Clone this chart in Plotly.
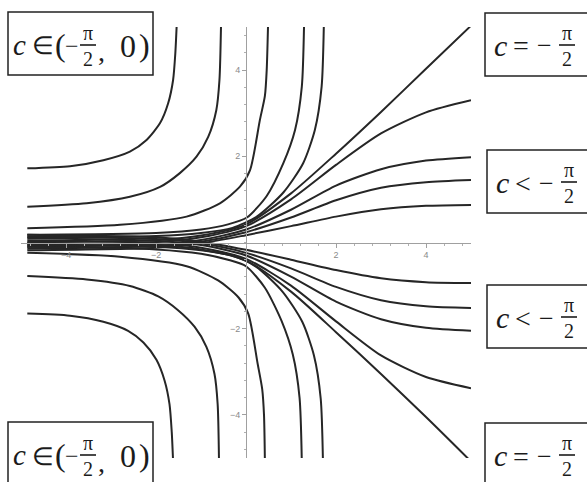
import plotly.graph_objects as go

W, H = 587, 482
ML, MR, MT, MB = 21, 116, 27, 24

# ---- solution curves, upper half ----
# c in (-pi/2, 0): branches that blow up
u1_x = [-4.86, -3.91, -3.17, -2.58, -2.21, -1.91, -1.73, -1.62, -1.57, -1.54]
u1_y = [1.72, 1.77, 1.91, 2.11, 2.38, 2.77, 3.23, 3.77, 4.4, 5.05]
u2_x = [-4.86, -3.54, -2.58, -1.91, -1.47, -1.10, -0.84, -0.66, -0.59, -0.555]
u2_y = [0.83, 0.91, 1.06, 1.29, 1.61, 1.99, 2.45, 3.07, 3.77, 5.05]
u3_x = [-4.86, -2.8, -1.32, -0.58, -0.13, 0.09, 0.31, 0.42, 0.46, 0.49]
u3_y = [0.33, 0.41, 0.60, 0.91, 1.30, 1.68, 2.85, 3.4, 4.0, 5.05]
u4_x = [-4.86, -2.0, -1.0, -0.4, 0.02, 0.46, 0.83, 1.09, 1.24, 1.29]
u4_y = [0.18, 0.22, 0.30, 0.42, 0.58, 1.08, 1.84, 2.61, 3.61, 5.05]
u5_x = [-4.86, -2.0, -1.0, -0.3, 0.24, 0.83, 1.27, 1.53, 1.68, 1.73]
u5_y = [0.12, 0.15, 0.22, 0.34, 0.60, 1.16, 1.84, 2.61, 3.61, 5.05]
# c = -pi/2 and c < -pi/2
xr = [-4.86, -2.0, -1.0, 0.0, 1.0, 2.0, 3.0, 4.0, 5.0]
ud_y = [0.01, 0.06, 0.16, 0.42, 1.14, 2.06, 3.03, 4.03, 5.03]
us1_y = [-0.05, 0.01, 0.12, 0.38, 1.0, 1.8, 2.53, 3.02, 3.3]
us2_y = [-0.10, -0.04, 0.06, 0.30, 0.76, 1.32, 1.7, 1.9, 1.98]
us3_y = [-0.14, -0.08, 0.02, 0.24, 0.58, 0.98, 1.27, 1.4, 1.45]
us4_y = [-0.18, -0.12, -0.02, 0.17, 0.38, 0.60, 0.77, 0.85, 0.87]

# ---- solution curves, lower half ----
l1_x = [-4.86, -3.91, -3.17, -2.62, -2.28, -1.99, -1.81, -1.70, -1.65, -1.62]
l1_y = [-1.65, -1.70, -1.84, -2.05, -2.32, -2.72, -3.2, -3.75, -4.4, -5.08]
l2_x = [-4.86, -3.54, -2.58, -1.95, -1.51, -1.14, -0.88, -0.70, -0.63, -0.60]
l2_y = [-0.78, -0.86, -1.01, -1.25, -1.57, -1.96, -2.42, -3.05, -3.75, -5.08]
l3_x = [-4.86, -2.8, -1.32, -0.62, -0.17, 0.05, 0.26, 0.36, 0.40, 0.42]
l3_y = [-0.24, -0.33, -0.55, -0.88, -1.27, -1.65, -2.82, -3.4, -4.0, -5.08]
l4_x = [-4.86, -2.0, -1.0, -0.4, 0.0, 0.42, 0.79, 1.04, 1.19, 1.24]
l4_y = [-0.10, -0.16, -0.26, -0.40, -0.55, -1.05, -1.82, -2.6, -3.6, -5.08]
l5_x = [-4.86, -2.0, -1.0, -0.3, 0.22, 0.81, 1.25, 1.51, 1.66, 1.71]
l5_y = [-0.06, -0.10, -0.18, -0.31, -0.56, -1.14, -1.84, -2.62, -3.62, -5.08]
ld_y = [-0.01, -0.06, -0.16, -0.42, -1.14, -2.08, -3.05, -4.05, -5.08]
ls1_y = [0.05, -0.01, -0.12, -0.38, -1.0, -1.83, -2.62, -3.12, -3.38]
ls2_y = [0.10, 0.04, -0.06, -0.30, -0.79, -1.37, -1.78, -1.98, -2.05]
ls3_y = [0.14, 0.08, -0.02, -0.24, -0.60, -1.03, -1.34, -1.48, -1.52]
ls4_y = [0.18, 0.12, 0.02, -0.17, -0.40, -0.64, -0.83, -0.92, -0.94]

x_ticks = [-4, -2, 2, 4]
y_ticks = [-4, -2, 2, 4]

curves = [
    (u1_x, u1_y), (u2_x, u2_y), (u3_x, u3_y), (u4_x, u4_y), (u5_x, u5_y),
    (xr, ud_y), (xr, us1_y), (xr, us2_y), (xr, us3_y), (xr, us4_y),
    (l1_x, l1_y), (l2_x, l2_y), (l3_x, l3_y), (l4_x, l4_y), (l5_x, l5_y),
    (xr, ld_y), (xr, ls1_y), (xr, ls2_y), (xr, ls3_y), (xr, ls4_y),
]

fig = go.Figure()
for xs, ys in curves:
    fig.add_trace(go.Scatter(
        x=xs, y=ys, mode="lines",
        line=dict(color="#262626", width=2, shape="spline", smoothing=0.7),
        hoverinfo="skip", showlegend=False, cliponaxis=True,
    ))

axis_common = dict(
    showgrid=False, zeroline=False, showline=True,
    linecolor="#a0a0a0", linewidth=1,
    ticks="outside", ticklen=4, tickcolor="#a0a0a0",
    tickfont=dict(family="Liberation Sans", size=9, color="#8a8a8a"),
    minor=dict(ticks="outside", ticklen=2, tickcolor="#b0b0b0", dtick=0.4, tick0=0),
    anchor="free", position=0.5,
)
fig.update_layout(
    width=W, height=H,
    margin=dict(l=ML, r=MR, t=MT, b=MB),
    paper_bgcolor="white", plot_bgcolor="white",
    xaxis=dict(range=[-5, 5], tickmode="array", tickvals=x_ticks, **axis_common),
    yaxis=dict(range=[-5, 5], tickmode="array", tickvals=y_ticks, **axis_common),
)

PW, PH = W - ML - MR, H - MT - MB


def px(x):
    return (x - ML) / PW


def py(y):
    return (H - MB - y) / PH


SERIF = "Liberation Serif, Times New Roman, serif"
INK = "#1b1b1b"


def glyph(text, x, y, size, italic=False):
    if italic:
        text = "<i>" + text + "</i>"
    fig.add_annotation(
        x=px(x), y=py(y), xref="paper", yref="paper", text=text,
        showarrow=False, xanchor="center", yanchor="middle",
        borderpad=0, font=dict(family=SERIF, size=size, color=INK),
    )


def frac_pi_2(x, ybar):
    # numerator and denominator stacked in one label, bar drawn between them
    glyph("π<br>2", x, ybar + 1, 20)
    fig.add_shape(type="line", xref="paper", yref="paper",
                  x0=px(x - 8), x1=px(x + 8), y0=py(ybar), y1=py(ybar),
                  line=dict(color=INK, width=1.6))


def box(x0, y0, x1, y1):
    fig.add_shape(type="rect", xref="paper", yref="paper",
                  x0=px(x0), x1=px(x1), y0=py(y0), y1=py(y1),
                  line=dict(color="#222222", width=1.5), fillcolor="white",
                  layer="above")


def interval_box(left, top):
    box(left, top, left + 145, top + 63)
    glyph("c", left + 11, top + 33, 29, italic=True)
    glyph("∈", left + 35, top + 34, 25)
    glyph("(", left + 52, top + 33, 32)
    glyph("−", left + 64, top + 34, 24)
    frac_pi_2(left + 80, top + 33)
    glyph(",", left + 93, top + 40, 28)
    glyph("0", left + 120, top + 34, 32)
    glyph(")", left + 136, top + 33, 32)


def relation_box(left, top, rel):
    box(left, top, left + 130, top + 63)
    glyph("c", left + 15, top + 32, 30, italic=True)
    glyph(rel, left + 36, top + 33, 28)
    glyph("−", left + 59, top + 33, 26)
    frac_pi_2(left + 82, top + 32)


interval_box(8, 12)
interval_box(8, 422)
relation_box(485, 13, "=")
relation_box(487, 150, "<")
relation_box(487, 285, "<")
relation_box(485, 423, "=")

fig.write_html("out.html")
